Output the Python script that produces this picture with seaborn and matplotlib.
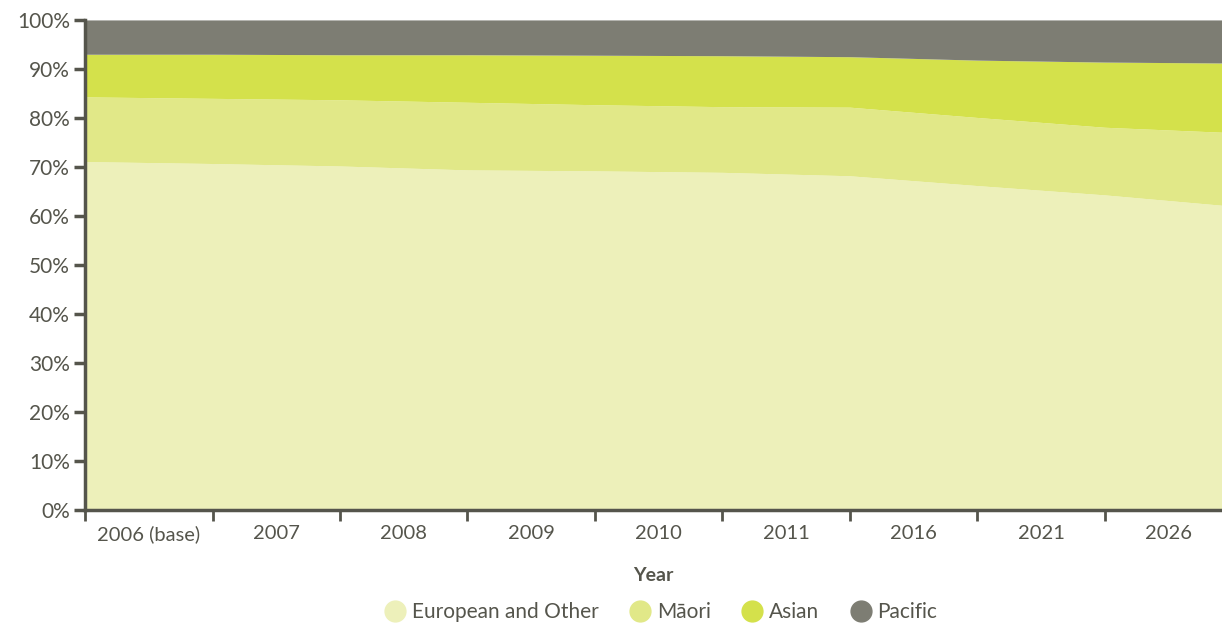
import numpy as np
import matplotlib
matplotlib.use("Agg")
import matplotlib.pyplot as plt
from matplotlib.lines import Line2D
import seaborn as sns

# category labels (shown between the tick marks)
years = ['2006 (base)', '2007', '2008', '2009', '2010', '2011', '2016', '2021', '2026']

# cumulative boundaries (%) read at each category edge
european_top = [71.1, 70.7, 70.2, 69.4, 69.2, 68.9, 68.2, 66.2, 64.3, 62.0]
maori_top    = [84.3, 84.0, 83.7, 83.2, 82.7, 82.3, 82.2, 80.1, 78.1, 77.0]
asian_top    = [93.0, 93.0, 92.9, 92.9, 92.8, 92.7, 92.5, 91.8, 91.4, 91.2]

european = np.array(european_top)
maori = np.array(maori_top) - european
asian = np.array(asian_top) - np.array(maori_top)
pacific = 100 - np.array(asian_top)

series_names = ['European and Other', 'Māori', 'Asian', 'Pacific']
colors = ['#EDF0BA', '#E1E888', '#D4E14B', '#7D7D73']
ink = '#55554C'

sns.set_theme(style='white')
plt.rcParams['font.family'] = ['Lato', 'DejaVu Sans']

fig = plt.figure(figsize=(12.22, 6.23), dpi=100)
ax = fig.add_axes([0.0696, 0.1814, 0.9304, 0.7866])

x = np.arange(len(european_top))
ax.stackplot(x, european, maori, asian, pacific, colors=colors, linewidth=0)

ax.set_xlim(0, 8.92)
ax.set_ylim(0, 100)

ax.set_yticks(np.arange(0, 101, 10))
ax.set_yticklabels([f'{v}%' for v in range(0, 101, 10)], fontsize=15, color=ink)

ax.set_xticks(np.arange(0, len(years)))
ax.set_xticklabels([])
ax.set_xticks(np.arange(len(years)) + 0.5, minor=True)
ax.set_xticklabels(years, minor=True, fontsize=14.5, color=ink)
ax.tick_params(axis='x', which='major', direction='out', length=8, width=2, color=ink, bottom=True)
ax.tick_params(axis='x', which='minor', length=0, pad=11, bottom=True)
ax.tick_params(axis='y', direction='out', length=8, width=2.5, color=ink, left=True, pad=3)

for side in ['top', 'right']:
    ax.spines[side].set_visible(False)
for side in ['left', 'bottom']:
    ax.spines[side].set_color(ink)
    ax.spines[side].set_linewidth(2.5)

ax.set_xlabel('Year', fontsize=14, fontweight='bold', color=ink, labelpad=17)

handles = [Line2D([], [], marker='o', linestyle='', markersize=15,
                  markerfacecolor=c, markeredgecolor=c) for c in colors]
fig.legend(handles, series_names, loc='center', bbox_to_anchor=(0.541, 0.017),
           ncol=4, frameon=False, fontsize=15, labelcolor=ink, handlelength=1.0,
           handletextpad=0.3, columnspacing=1.5, borderaxespad=0)

fig.savefig('out.png', dpi=100)
